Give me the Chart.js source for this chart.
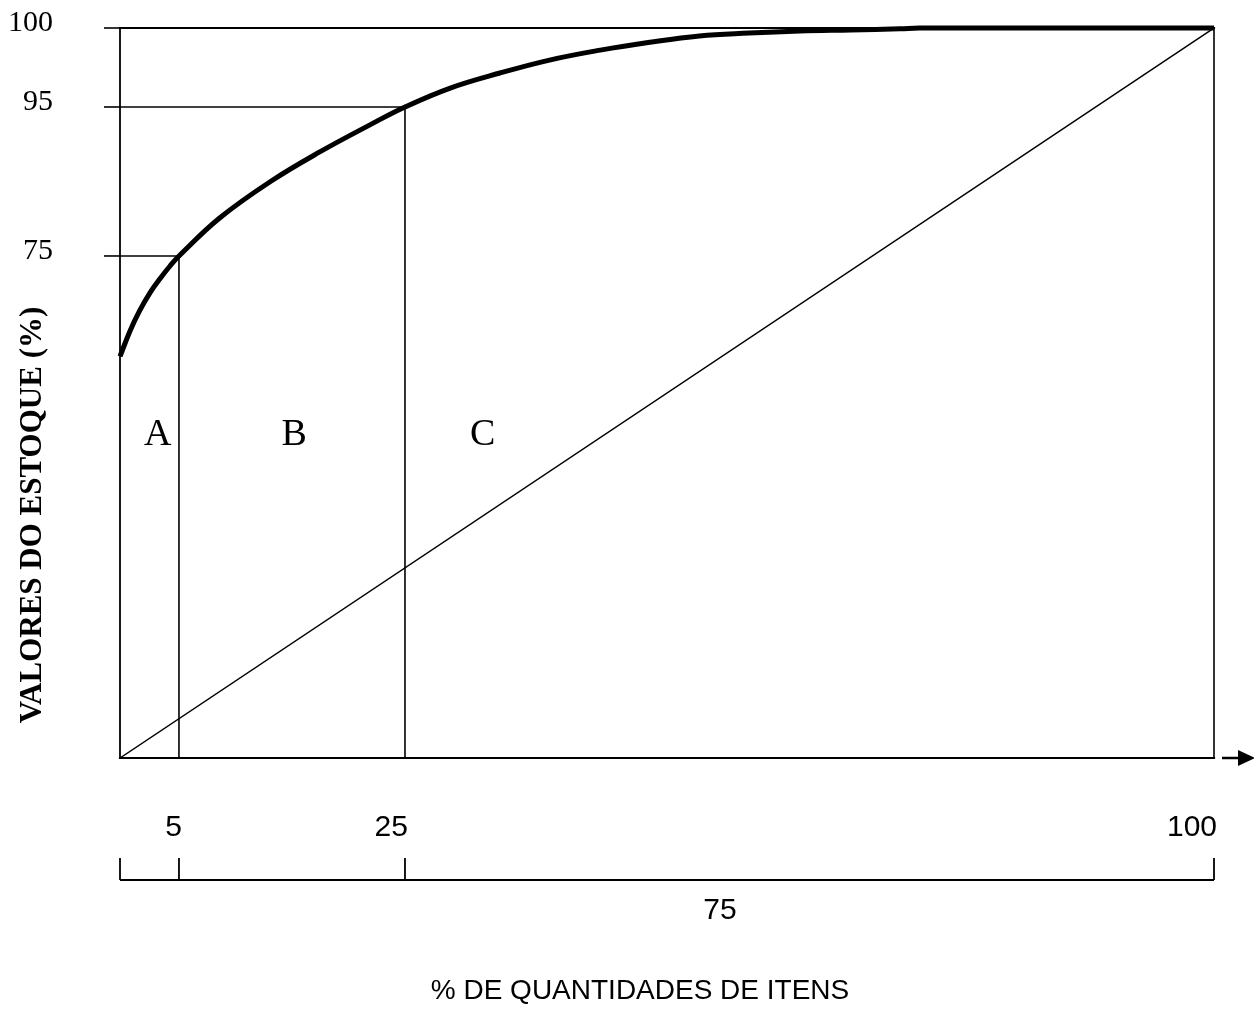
<!DOCTYPE html>
<html>
<head>
<meta charset="utf-8">
<script src="https://cdn.jsdelivr.net/npm/chart.js@4/dist/chart.umd.min.js"></script>
<style>
  html, body { margin: 0; padding: 0; background: #ffffff; }
  canvas { display: block; }
</style>
</head>
<body>
<canvas id="c" width="1254" height="1009"></canvas>
<script>
// ---------------- DATA ----------------
// ABC (Pareto) curve: % of item quantity (x) vs cumulative % of stock value (y)
const curveX = [0, 0.85, 1.69, 2.54, 3.39, 4.24, 5, 8.6, 13.1, 17.5, 21.9, 25, 29.2, 33.8, 38.4, 43.1, 47.7, 52.3, 56.9, 61.6, 66.3, 70.9, 72.7, 100];
const curveY = [60, 63.8, 66.9, 69.5, 71.6, 73.5, 75, 80.1, 85.0, 89.0, 92.6, 95, 96.2, 97.15, 97.97, 98.6, 99.1, 99.5, 99.68, 99.81, 99.88, 99.95, 100, 100];

const classLabels = ['A', 'B', 'C'];
const classBounds = [0, 5, 25, 100];      // x limits of classes
const classTop = [75, 95, 100];           // cumulative value reached at each class end
const xTickLabels = [5, 25, 100];
const yTickLabels = [75, 95, 100];
const bracketTicks = [0, 5, 25, 100];
const bracketLabel = '75';
const xTitle = '% DE QUANTIDADES DE ITENS';
const yTitle = 'VALORES DO ESTOQUE (%)';

// label anchor points (data space)
const classLabelX = [3.2, 15.2, 32.2];
const classLabelY = 48.3;
const bracketLabelX = 54.2;

// ---------------- SCALE (schematic, piecewise) ----------------
const SCALE_MAP = {
  x: { v: [0, 5, 25, 100], f: [0, 0.0539, 0.2605, 1] },
  y: { v: [0, 75, 95, 100], f: [0, 0.6877, 0.8918, 1] }
};
function interp(a, b, t) {
  if (t <= a[0]) return b[0] + (t - a[0]) * (b[1] - b[0]) / (a[1] - a[0]);
  for (let i = 1; i < a.length; i++) {
    if (t <= a[i]) return b[i - 1] + (t - a[i - 1]) * (b[i] - b[i - 1]) / (a[i] - a[i - 1]);
  }
  const n = a.length - 1;
  return b[n] + (t - a[n]) * (b[n] - b[n - 1]) / (a[n] - a[n - 1]);
}
class PiecewiseScale extends Chart.LinearScale {
  getPixelForValue(value) {
    const m = SCALE_MAP[this.id];
    return this.getPixelForDecimal(interp(m.v, m.f, value));
  }
  getValueForPixel(pixel) {
    const m = SCALE_MAP[this.id];
    return interp(m.f, m.v, this.getDecimalForPixel(pixel));
  }
}
PiecewiseScale.id = 'piecewise';
PiecewiseScale.defaults = Chart.LinearScale.defaults;
Chart.register(PiecewiseScale);

// ---------------- DATASETS ----------------
const thin = 1.6;
function seg(p1, p2, w) {
  return {
    data: [p1, p2], borderColor: '#000', borderWidth: w || thin,
    pointRadius: 0, tension: 0, clip: 20, borderCapStyle: 'square'
  };
}
const datasets = [];
datasets.push({
  data: curveX.map((x, i) => ({ x: x, y: curveY[i] })),
  borderColor: '#000', borderWidth: 5, pointRadius: 0,
  tension: 0.4, clip: 20, borderCapStyle: 'butt', borderJoinStyle: 'round'
});
// class boundaries (vertical) and reference levels (horizontal)
for (let i = 1; i < classBounds.length; i++) {
  datasets.push(seg({ x: classBounds[i], y: 0 }, { x: classBounds[i], y: classTop[i - 1] }));
  datasets.push(seg({ x: 0, y: classTop[i - 1] }, { x: classBounds[i], y: classTop[i - 1] }, i === 3 ? 2.2 : thin));
}
datasets.push(seg({ x: 0, y: 0 }, { x: 0, y: 100 }, 1.8));          // y axis
datasets.push(seg({ x: 0, y: 0 }, { x: 100, y: 0 }, 2.2));          // x axis
datasets.push(seg({ x: 0, y: 0 }, { x: 100, y: 100 }, 1.5));        // equal distribution line

// ---------------- ANNOTATIONS ----------------
const annotations = {
  id: 'annotations',
  afterDraw(chart) {
    const ctx = chart.ctx;
    const xs = chart.scales.x, ys = chart.scales.y;
    const left = xs.getPixelForValue(0);
    const bottom = ys.getPixelForValue(0);
    ctx.save();
    ctx.fillStyle = '#000';
    ctx.strokeStyle = '#000';

    // y tick marks + labels
    ctx.lineWidth = thin;
    ctx.font = '30px "Liberation Serif", "Times New Roman", serif';
    ctx.textAlign = 'right';
    ctx.textBaseline = 'middle';
    yTickLabels.forEach(v => {
      const py = ys.getPixelForValue(v);
      ctx.beginPath();
      ctx.moveTo(left - 16, py);
      ctx.lineTo(left, py);
      ctx.stroke();
      ctx.fillText(String(v), 53, py - 5);
    });

    // arrow at end of x axis
    const right = xs.getPixelForValue(100);
    ctx.lineWidth = 2.5;
    ctx.beginPath();
    ctx.moveTo(right + 8, bottom);
    ctx.lineTo(right + 28, bottom);
    ctx.stroke();
    ctx.beginPath();
    ctx.moveTo(right + 24, bottom - 8);
    ctx.lineTo(right + 41, bottom);
    ctx.lineTo(right + 24, bottom + 8);
    ctx.closePath();
    ctx.fill();

    // class letters
    ctx.font = '38px "Liberation Serif", "Times New Roman", serif';
    ctx.textAlign = 'center';
    classLabels.forEach((t, i) => {
      ctx.fillText(t, xs.getPixelForValue(classLabelX[i]), ys.getPixelForValue(classLabelY));
    });

    // x tick labels
    ctx.font = '30px "Liberation Sans", Arial, sans-serif';
    ctx.textAlign = 'right';
    xTickLabels.forEach(v => {
      ctx.fillText(String(v), xs.getPixelForValue(v) + 3, bottom + 70);
    });

    // bracket
    const by = bottom + 122;
    ctx.lineWidth = 1.8;
    ctx.beginPath();
    ctx.moveTo(xs.getPixelForValue(bracketTicks[0]), by);
    ctx.lineTo(xs.getPixelForValue(bracketTicks[bracketTicks.length - 1]), by);
    bracketTicks.forEach(v => {
      const px = xs.getPixelForValue(v);
      ctx.moveTo(px, by);
      ctx.lineTo(px, by - 22);
    });
    ctx.stroke();
    ctx.textAlign = 'center';
    ctx.fillText(bracketLabel, xs.getPixelForValue(bracketLabelX), by + 31);

    // x title
    ctx.font = '28px "Liberation Sans", Arial, sans-serif';
    ctx.fillText(xTitle, 640, 991);

    // y title
    ctx.translate(33, 515);
    ctx.rotate(-Math.PI / 2);
    ctx.font = 'bold 31px "Liberation Serif", "Times New Roman", serif';
    ctx.fillText(yTitle, 0, 0);
    ctx.restore();
  }
};

new Chart(document.getElementById('c'), {
  type: 'line',
  data: { datasets: datasets },
  options: {
    responsive: false,
    animation: false,
    events: [],
    layout: { padding: { left: 120, right: 40, top: 28, bottom: 251 } },
    plugins: { legend: { display: false }, tooltip: { enabled: false } },
    scales: {
      x: { type: 'piecewise', min: 0, max: 100, display: false },
      y: { type: 'piecewise', min: 0, max: 100, display: false }
    }
  },
  plugins: [annotations]
});
</script>
</body>
</html>
